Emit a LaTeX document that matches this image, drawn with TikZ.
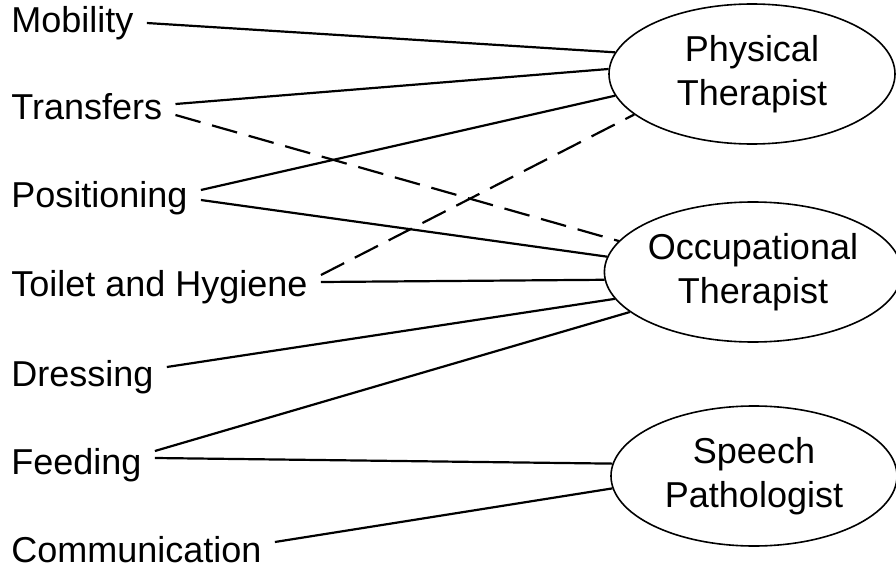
\documentclass[tikz,border=0pt]{standalone}
\usepackage{fontspec}
\setmainfont{Liberation Sans}
\usetikzlibrary{shapes.geometric}
\begin{document}
\begin{tikzpicture}[x=0.5pt,y=-0.5pt,
    font=\fontsize{18}{22}\selectfont,
    item/.style={anchor=west,inner xsep=6.5pt,inner ysep=0pt,text height=0.75em,text depth=0.2em},
    therapist/.style={ellipse,draw,line width=0.8pt,minimum width=143pt,minimum height=70pt,inner sep=0pt,align=center},
    link/.style={line width=1.1pt},
    maybe/.style={link,dash pattern=on 13pt off 6pt}]
  \useasboundingbox (0,0) rectangle (896,573);
  % tasks
  \foreach \n/\t/\y in {mob/Mobility/27,tra/Transfers/114,pos/Positioning/202,
      toi/Toilet and Hygiene/291,dre/Dressing/381,fee/Feeding/469,com/Communication/557}
    \node[item] (\n) at (-2,\y) {\t};
  % professions
  \node[therapist] (pt) at (752,74) {Physical\\Therapist};
  \node[therapist] (ot) at (753,272) {Occupational\\Therapist};
  \node[therapist] (sp) at (754,476) {Speech\\Pathologist};
  % who does what
  \draw[link] ([yshift=2pt]mob.east) -- (pt.171);
  \draw[link] ([yshift=5pt]tra.east) -- (pt.178);
  \draw[maybe] ([yshift=-0.5pt]tra.east) -- (ot.167);
  \draw[link] ([yshift=6pt]pos.east) -- (pt.189);
  \draw[link] ([yshift=1pt]pos.east) -- (ot.174);
  \draw[maybe] ([yshift=8pt]toi.east) -- (pt.199);
  \draw[link] ([yshift=4.5pt]toi.east) -- (ot.183);
  \draw[link] ([yshift=7pt]dre.east) -- (ot.191);
  \draw[link] ([yshift=9pt]fee.east) -- (ot.198);
  \draw[link] ([yshift=5.5pt]fee.east) -- (sp.175);
  \draw[link] ([yshift=7.5pt]com.east) -- (sp.185);
\end{tikzpicture}
\end{document}
